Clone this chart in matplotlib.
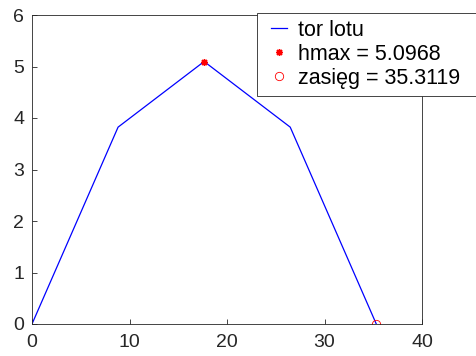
import matplotlib
matplotlib.use("Agg")
import matplotlib.pyplot as plt
from matplotlib.patches import Rectangle

x_tor = [0, 8.828, 17.656, 26.484, 35.3119]
y_tor = [0, 3.8226, 5.0968, 3.8226, 0]
hmax_x, hmax_y = 17.656, 5.0968
zas_x, zas_y = 35.3119, 0
labels = ["tor lotu", "hmax = 5.0968", "zasięg = 35.3119"]
xticks = [0, 10, 20, 30, 40]
yticks = [0, 1, 2, 3, 4, 5, 6]

plt.rcParams['font.family'] = ['Liberation Sans', 'DejaVu Sans']

fig = plt.figure(figsize=(4.77, 3.56), dpi=100)
W, H = 477, 356
ax = fig.add_axes([32/W, 1-324/H, 390/W, 309/H])
ax.plot(x_tor, y_tor, color='blue', lw=0.9, label=labels[0])
ax.plot([hmax_x], [hmax_y], linestyle='none', marker=(8, 2, 0), color='red',
        markersize=5, mew=1.0, label=labels[1])
ax.plot([zas_x], [zas_y], linestyle='none', marker='o', mfc='none', mec='red',
        markersize=6, mew=0.6, label=labels[2])
ax.set_xlim(0, 40)
ax.set_ylim(0, 6)
ax.set_xticks(xticks)
ax.set_yticks(yticks)
ax.tick_params(direction='in', length=3.5, width=0.6, labelsize=14, colors='#262626',
               top=False, right=False)
ax.tick_params(axis='x', pad=7)
ax.tick_params(axis='y', pad=5.5)
for s in ax.spines.values():
    s.set_linewidth(0.6)
    s.set_color('#262626')

# legend frame (extends past the right edge like the reference)
frame = Rectangle((257/W, 1-96/H), (485-257)/W, 83/H, transform=fig.transFigure,
                  facecolor='white', edgecolor='#262626', linewidth=0.6, zorder=4)
fig.patches.append(frame)
leg = fig.legend(loc='upper left', bbox_to_anchor=(271/W, 1-19.5/H), fontsize=15.5,
                 frameon=False, handlelength=0.75, handletextpad=0.5, borderpad=0,
                 labelspacing=0.15, borderaxespad=0)
leg.set_zorder(5)
fig.savefig('out.png', dpi=100)
